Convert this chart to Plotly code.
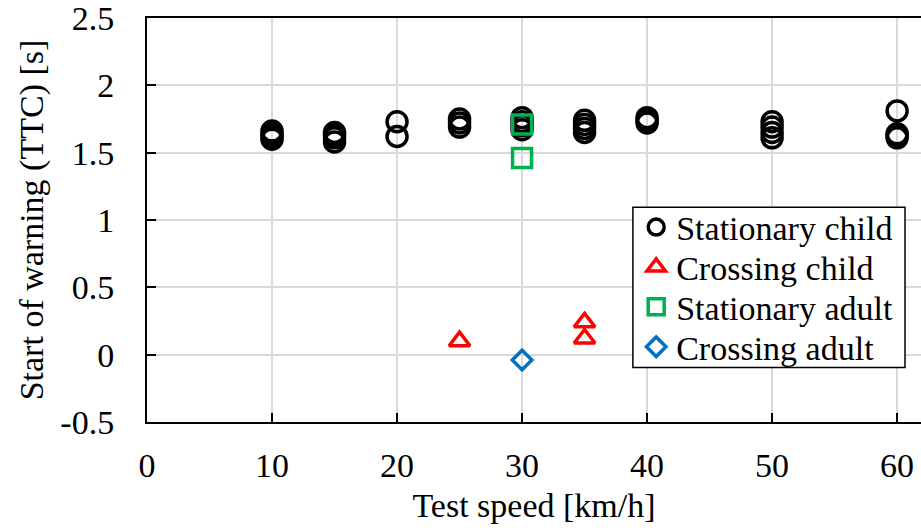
import plotly.graph_objects as go

# ---- data ----
sc_x = [10, 10, 10, 10, 15, 15, 15, 15, 20, 20, 25, 25, 25,
        30, 30, 30, 30, 35, 35, 35, 35, 40, 40, 40,
        50, 50, 50, 50, 60, 60, 60, 60]
sc_y = [1.60, 1.62, 1.64, 1.66, 1.58, 1.61, 1.63, 1.65, 1.73, 1.62, 1.69, 1.72, 1.75,
        1.67, 1.70, 1.73, 1.76, 1.65, 1.68, 1.71, 1.74, 1.72, 1.74, 1.76,
        1.61, 1.65, 1.69, 1.73, 1.81, 1.61, 1.63, 1.64]
cc_x = [25, 35, 35]
cc_y = [0.10, 0.24, 0.12]
sa_x = [30, 30]
sa_y = [1.71, 1.46]
ca_x = [30]
ca_y = [-0.04]

series_names = ["Stationary child", "Crossing child", "Stationary adult", "Crossing adult"]
x_tickvals = [0, 10, 20, 30, 40, 50, 60]
x_ticktext = ["0", "10", "20", "30", "40", "50", "60"]
y_tickvals = [-0.5, 0, 0.5, 1, 1.5, 2, 2.5]
y_ticktext = ["-0.5", "0", "0.5", "1", "1.5", "2", "2.5"]
x_title = "Test speed [km/h]"
y_title = "Start of warning (TTC) [s]"

FONT = "'Liberation Serif', 'Times New Roman', 'DejaVu Serif', serif"
FS = 34

# plot area in pixels
W, H = 921, 531
L, R, T, B = 146.5, 921, 18.3, 421.7
PW, PH = R - L, B - T


def px2paper(px, py):
    return (px - L) / PW, (B - py) / PH


fig = go.Figure()
fig.add_trace(go.Scatter(x=sc_x, y=sc_y, mode="markers", name=series_names[0], legend="legend",
                         marker=dict(symbol="circle-open", size=20, color="black",
                                     line=dict(width=3.5, color="black"))))
fig.add_trace(go.Scatter(x=cc_x, y=cc_y, mode="markers", name=series_names[1], legend="legend2",
                         marker=dict(symbol="triangle-up-open", size=18, color="#ff0000",
                                     line=dict(width=3.5, color="#ff0000"))))
fig.add_trace(go.Scatter(x=sa_x, y=sa_y, mode="markers", name=series_names[2], legend="legend3",
                         marker=dict(symbol="square-open", size=19, color="#00b050",
                                     line=dict(width=3.5, color="#00b050"))))
fig.add_trace(go.Scatter(x=ca_x, y=ca_y, mode="markers", name=series_names[3], legend="legend4",
                         marker=dict(symbol="diamond-open", size=15, color="#0070c0",
                                     line=dict(width=3.5, color="#0070c0"))))

# legend box
bx0, by0 = px2paper(632.7, 207.3)
bx1, by1 = px2paper(905, 367.3)
fig.add_shape(type="rect", xref="paper", yref="paper", x0=bx0, x1=bx1, y0=by1, y1=by0,
              line=dict(color="black", width=1.5), fillcolor="white", layer="above")

row_centers = [227.5, 267.3, 307.1, 346.9]
leg_left = 636.0
legs = {}
for i, yc in enumerate(row_centers):
    lx, ly = px2paper(leg_left, yc)
    legs["legend" if i == 0 else f"legend{i+1}"] = dict(
        x=lx, y=ly, xanchor="left", yanchor="middle", bgcolor="rgba(0,0,0,0)",
        borderwidth=0, itemwidth=30,
        font=dict(family=FONT, size=FS, color="black"))

axis_common = dict(showgrid=True, gridcolor="#d9d9d9", gridwidth=1.5, zeroline=False,
                   showline=True, linecolor="black", linewidth=2,
                   ticks="inside", ticklen=9, tickwidth=1.5, tickcolor="black",
                   ticklabeloverflow="allow",
                   tickfont=dict(family=FONT, size=FS, color="black"))

fig.update_layout(
    width=W, height=H,
    margin=dict(l=L, r=W - R, t=T, b=H - B),
    paper_bgcolor="white", plot_bgcolor="white",
    font=dict(family=FONT, size=FS, color="black"),
    showlegend=True,
    **legs,
    xaxis=dict(range=[0, (R - L) / 12.51], tickvals=x_tickvals, ticktext=x_ticktext,
               mirror=True, ticklabelstandoff=12,
               title=dict(text=x_title, font=dict(family=FONT, size=FS, color="black"), standoff=10),
               **axis_common),
    yaxis=dict(range=[-0.5, 2.5], tickvals=y_tickvals, ticktext=y_ticktext,
               ticklabelstandoff=24,
               title=dict(text=y_title, font=dict(family=FONT, size=FS, color="black"), standoff=6),
               **axis_common),
)

fig.write_html("out.html")
